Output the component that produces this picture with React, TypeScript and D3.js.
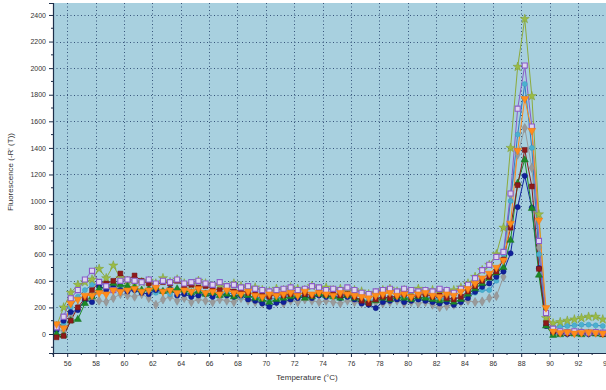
import { useEffect, useRef } from "react";
import * as d3 from "d3";

// melt peak temperatures (°C), 0.5 °C steps
const temps = [
  55.25, 55.75, 56.25, 56.75, 57.25, 57.75, 58.25, 58.75, 59.25, 59.75,
  60.25, 60.75, 61.25, 61.75, 62.25, 62.75, 63.25, 63.75, 64.25, 64.75,
  65.25, 65.75, 66.25, 66.75, 67.25, 67.75, 68.25, 68.75, 69.25, 69.75,
  70.25, 70.75, 71.25, 71.75, 72.25, 72.75, 73.25, 73.75, 74.25, 74.75,
  75.25, 75.75, 76.25, 76.75, 77.25, 77.75, 78.25, 78.75, 79.25, 79.75,
  80.25, 80.75, 81.25, 81.75, 82.25, 82.75, 83.25, 83.75, 84.25, 84.75,
  85.25, 85.75, 86.25, 86.75, 87.25, 87.75, 88.25, 88.75, 89.25, 89.75,
  90.25, 90.75, 91.25, 91.75, 92.25, 92.75, 93.25, 93.75,
];

const grayVals = [
  40, 20, 120, 200, 250, 260, 250, 242, 270, 300,
  290, 280, 300, 270, 220, 260, 280, 250, 270, 240,
  260, 250, 240, 260, 250, 240, 270, 250, 240, 230,
  250, 240, 230, 250, 240, 260, 250, 240, 250, 240,
  230, 250, 240, 230, 250, 240, 230, 240, 250, 230,
  240, 230, 240, 220, 200, 210, 220, 240, 250, 240,
  245, 270, 285, 430, 1050, 1350, 1550, 1250, 650, 100,
  15, 10, 5, 10, 15, 5, 10, 5,
];
const tealVals = [
  20, 80, 200, 280, 330, 370, 380, 360, 350, 340,
  330, 350, 320, 330, 310, 320, 300, 330, 310, 300,
  320, 310, 300, 290, 310, 300, 280, 290, 270, 280,
  260, 270, 280, 290, 300, 280, 290, 300, 280, 290,
  300, 280, 270, 260, 250, 260, 280, 270, 290, 280,
  270, 260, 280, 270, 260, 270, 260, 280, 300, 310,
  330, 330, 400, 600, 1000, 1500, 1880, 1400, 600, 90,
  50, 55, 60, 65, 70, 70, 65, 60,
];
const oliveVals = [
  60, 200, 310, 370, 390, 410, 490, 420, 515, 420,
  400, 380, 390, 400, 380, 420, 390, 410, 380, 370,
  400, 380, 360, 370, 350, 380, 360, 340, 350, 330,
  320, 340, 330, 350, 340, 330, 360, 340, 350, 330,
  340, 320, 330, 320, 300, 310, 330, 340, 320, 330,
  310, 340, 320, 330, 310, 320, 330, 350, 380, 430,
  480, 520, 600, 800, 1400, 2010, 2370, 1790, 900, 120,
  80, 90, 100, 110, 120, 130, 130, 110,
];
const navyVals = [
  30, 100, 165, 180, 255, 240, 360, 330, 350, 330,
  320, 330, 310, 300, 330, 320, 340, 290, 300, 280,
  290, 300, 280, 310, 290, 280, 290, 260, 250, 230,
  205, 235, 240, 260, 270, 280, 270, 290, 280, 290,
  270, 280, 260, 230, 220, 195, 240, 250, 260, 240,
  250, 260, 250, 240, 230, 240, 220, 240, 270, 317,
  355, 380, 430, 470, 607, 955, 1190, 950, 495, 60,
  10, 5, 0, 10, 5, 0, 10, 5,
];
const greenVals = [
  0, -10, 100, 110, 230, 280, 340, 360, 380, 370,
  360, 350, 330, 340, 350, 320, 330, 340, 330, 310,
  320, 300, 310, 290, 300, 280, 300, 290, 270, 260,
  240, 260, 270, 280, 290, 270, 280, 300, 290, 280,
  270, 290, 270, 260, 240, 250, 270, 260, 280, 270,
  260, 280, 270, 260, 250, 260, 240, 260, 300, 340,
  380, 420, 460, 500, 705, 1135, 1310, 945, 443, 60,
  -10, -5, 5, 0, -5, 5, 0, -5,
];
const redVals = [
  -25, -15, 100, 200, 270, 330, 390, 380, 400, 455,
  410, 440, 400, 380, 370, 390, 380, 400, 360, 370,
  350, 360, 340, 330, 350, 320, 330, 310, 300, 290,
  280, 300, 290, 300, 310, 300, 290, 320, 300, 310,
  290, 300, 280, 250, 230, 260, 280, 270, 290, 300,
  280, 290, 300, 280, 290, 270, 260, 280, 320, 360,
  400, 430, 470, 560, 800, 1120, 1385, 1110, 490, 82,
  20, 10, 5, 15, 10, 5, 10, 0,
];
const purpleVals = [
  50, 130, 268, 330, 410, 475, 392, 360, 330, 400,
  410, 400, 390, 410, 380, 400, 390, 410, 380, 390,
  400, 380, 370, 390, 360, 370, 350, 360, 340, 330,
  320, 330, 340, 350, 330, 340, 360, 350, 330, 340,
  330, 350, 330, 310, 300, 320, 330, 340, 320, 340,
  330, 320, 330, 320, 340, 330, 310, 340, 370, 420,
  480, 520, 580, 617, 1057, 1695, 2020, 1560, 700, 157,
  40, 20, 15, 20, 15, 10, 15, 10,
];
const orangeVals = [
  75, 45, 230, 260, 290, 290, 310, 300, 330, 320,
  330, 340, 320, 330, 350, 320, 330, 310, 330, 320,
  340, 310, 320, 300, 330, 310, 300, 320, 290, 280,
  300, 290, 300, 310, 290, 320, 300, 310, 300, 290,
  310, 300, 290, 280, 270, 290, 300, 310, 290, 300,
  280, 300, 310, 290, 280, 300, 290, 320, 340, 380,
  420, 455, 500, 555, 832, 1380, 1770, 1530, 855, 197,
  20, 10, 15, 5, 10, 15, 10, 5,
];

const yTicks = [0, 200, 400, 600, 800, 1000, 1200, 1400, 1600, 1800, 2000, 2200, 2400];
const xTicks = [56, 58, 60, 62, 64, 66, 68, 70, 72, 74, 76, 78, 80, 82, 84, 86, 88, 90, 92, 94];

const series = [
  { name: "gray", values: grayVals, line: "#9a9a9a", fill: "#9a9a9a", stroke: "#8a8a8a", symbol: d3.symbolDiamond, size: 24, rotate: 0 },
  { name: "teal", values: tealVals, line: "#2f7fc4", fill: "#4cb0cf", stroke: "#3a9cc0", symbol: d3.symbolCircle, size: 20, rotate: 0 },
  { name: "olive", values: oliveVals, line: "#8cab3c", fill: "#9bbb45", stroke: "#7f9e35", symbol: d3.symbolStar, size: 26, rotate: 0 },
  { name: "navy", values: navyVals, line: "#1426a0", fill: "#10209a", stroke: "#0c1880", symbol: d3.symbolCircle, size: 22, rotate: 0 },
  { name: "green", values: greenVals, line: "#1f8b2a", fill: "#1c8a28", stroke: "#16701f", symbol: d3.symbolTriangle, size: 22, rotate: 0 },
  { name: "red", values: redVals, line: "#8c1c1c", fill: "#8e1a1a", stroke: "#701212", symbol: d3.symbolSquare, size: 24, rotate: 0 },
  { name: "purple", values: purpleVals, line: "#8a5cc8", fill: "#ddd5f0", stroke: "#8a5cc8", symbol: d3.symbolSquare, size: 26, rotate: 0 },
  { name: "orange", values: orangeVals, line: "#ff8c1a", fill: "#ff8c1a", stroke: "#f07a10", symbol: d3.symbolTriangle, size: 26, rotate: 180 },
];

const W = 606;
const H = 390;
const plot = { left: 53, top: 3, right: 612, bottom: 353 };

export default function App() {
  const svgRef = useRef<SVGSVGElement>(null);

  useEffect(() => {
    const svg = d3.select(svgRef.current);
    svg.selectAll("*").remove();

    const x = d3.scaleLinear().domain([55, 94.4]).range([plot.left, plot.right]);
    const y = d3.scaleLinear().domain([-143, 2490]).range([plot.bottom, plot.top]);

    svg.append("rect").attr("width", W).attr("height", H).attr("fill", "#ffffff");

    svg.append("defs").append("clipPath").attr("id", "plotclip")
      .append("rect")
      .attr("x", plot.left).attr("y", plot.top)
      .attr("width", plot.right - plot.left).attr("height", plot.bottom - plot.top);

    svg.append("rect")
      .attr("x", plot.left).attr("y", plot.top)
      .attr("width", plot.right - plot.left).attr("height", plot.bottom - plot.top)
      .attr("fill", "#a8d0df");

    // dotted grid
    const grid = svg.append("g").attr("stroke", "#24406a").attr("stroke-width", 1)
      .attr("stroke-dasharray", "1,2.5").attr("opacity", 0.85);
    grid.selectAll("line.h").data(yTicks).join("line")
      .attr("x1", plot.left).attr("x2", plot.right)
      .attr("y1", (d) => Math.round(y(d)) + 0.5).attr("y2", (d) => Math.round(y(d)) + 0.5);
    grid.selectAll("line.v").data(xTicks).join("line")
      .attr("y1", plot.top).attr("y2", plot.bottom)
      .attr("x1", (d) => Math.round(x(d)) + 0.5).attr("x2", (d) => Math.round(x(d)) + 0.5);

    // series
    const g = svg.append("g").attr("clip-path", "url(#plotclip)");
    const line = d3.line<number>()
      .x((_, i) => x(temps[i]))
      .y((d) => y(d));

    series.forEach((s) => {
      g.append("path")
        .datum(s.values)
        .attr("fill", "none")
        .attr("stroke", s.line)
        .attr("stroke-width", 1)
        .attr("d", line);
    });
    series.forEach((s) => {
      const sym = d3.symbol().type(s.symbol).size(s.size);
      g.append("g").selectAll("path").data(s.values).join("path")
        .attr("d", sym)
        .attr("transform", (d, i) => `translate(${x(temps[i])},${y(d)}) rotate(${s.rotate})`)
        .attr("fill", s.fill)
        .attr("stroke", s.stroke)
        .attr("stroke-width", s.name === "purple" ? 1.1 : 0.5);
    });

    // axes
    const yAxis = d3.axisLeft(y).tickValues(yTicks).tickSize(4).tickPadding(3).tickFormat(d3.format("d"));
    const yg = svg.append("g").attr("transform", `translate(${plot.left},0)`).call(yAxis);
    const xAxis = d3.axisBottom(x).tickValues(xTicks).tickSize(4).tickPadding(4).tickFormat(d3.format("d"));
    const xg = svg.append("g").attr("transform", `translate(0,${plot.bottom})`).call(xAxis);

    // minor ticks
    const yMinor = d3.range(-100, 2500, 100).filter((v) => v % 200 !== 0);
    svg.append("g").selectAll("line").data(yMinor).join("line")
      .attr("x1", plot.left - 2).attr("x2", plot.left)
      .attr("y1", (d) => y(d)).attr("y2", (d) => y(d))
      .attr("stroke", "#1d2f4a");
    const xMinor = d3.range(55, 95, 1).filter((v) => v % 2 !== 0);
    svg.append("g").selectAll("line").data(xMinor).join("line")
      .attr("y1", plot.bottom).attr("y2", plot.bottom + 2)
      .attr("x1", (d) => x(d)).attr("x2", (d) => x(d))
      .attr("stroke", "#1d2f4a");

    [yg, xg].forEach((ax) => {
      ax.select(".domain").attr("stroke", "#1d2f4a").attr("stroke-width", 1.2);
      ax.selectAll(".tick line").attr("stroke", "#1d2f4a");
      ax.selectAll("text")
        .attr("fill", "#333")
        .style("font-family", "'Liberation Sans', Arial, sans-serif")
        .style("font-size", "7px");
    });

    svg.append("text")
      .attr("transform", `translate(13,172) rotate(-90)`)
      .attr("text-anchor", "middle")
      .attr("fill", "#333")
      .style("font-family", "'Liberation Sans', Arial, sans-serif")
      .style("font-size", "8px")
      .text("Fluorescence (-R' (T))");

    svg.append("text")
      .attr("x", 307).attr("y", 380)
      .attr("text-anchor", "middle")
      .attr("fill", "#333")
      .style("font-family", "'Liberation Sans', Arial, sans-serif")
      .style("font-size", "8px")
      .text("Temperature (°C)");
  }, []);

  return (
    <svg
      ref={svgRef}
      width={W}
      height={H}
      style={{ position: "absolute", left: 0, top: 0 }}
    />
  );
}
